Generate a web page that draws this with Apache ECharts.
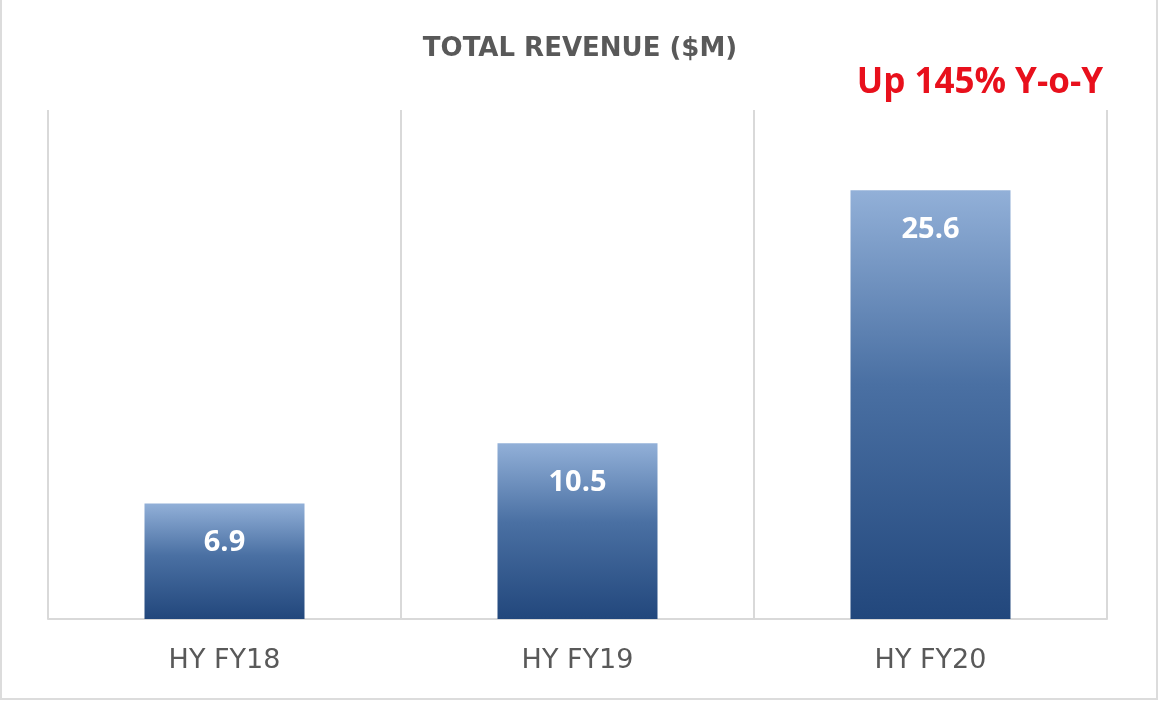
<!DOCTYPE html>
<html>
<head>
<meta charset="utf-8">
<script src="https://cdn.jsdelivr.net/npm/echarts@6/dist/echarts.min.js"></script>
<style>
  html, body { margin: 0; padding: 0; background: #ffffff; }
  #frame { position: absolute; left: 0; top: -4px; width: 1154px; height: 700px;
           border: 2px solid #dcdcdc; background: #fff; }
  #chart { position: absolute; left: 0; top: 0; width: 1160px; height: 704px; }
</style>
</head>
<body>
<div id="frame"></div>
<div id="chart"></div>
<script>
const categories = ['HY FY18', 'HY FY19', 'HY FY20'];
const revenue = [6.9, 10.5, 25.6];
const chartTitle = 'TOTAL REVENUE ($M)';
const annotation = 'Up 145% Y-o-Y';

const chart = echarts.init(document.getElementById('chart'), null, { renderer: 'canvas' });
chart.setOption({
  backgroundColor: 'transparent',
  animation: false,
  title: [
    {
      text: chartTitle,
      left: 'center',
      top: 31,
      textStyle: { fontFamily: 'DejaVu Sans', fontWeight: 'bold', fontSize: 26, color: '#595959' }
    },
    {
      text: annotation,
      right: 52,
      top: 61,
      textStyle: { fontFamily: 'Open Sans', fontWeight: 'bold', fontSize: 35, color: '#e8101c' }
    }
  ],
  grid: { left: 48, right: 53, top: 110, bottom: 85, containLabel: false },
  xAxis: {
    type: 'category',
    data: categories,
    boundaryGap: true,
    axisLine: { show: true, lineStyle: { color: '#d9d9d9', width: 2 } },
    axisTick: { show: false },
    splitLine: { show: true, lineStyle: { color: '#d9d9d9', width: 2 } },
    axisLabel: { margin: 28, fontFamily: 'DejaVu Sans', fontSize: 27, color: '#595959' }
  },
  yAxis: {
    type: 'value',
    min: 0,
    max: 30.4,
    show: false,
    splitLine: { show: false }
  },
  series: [{
    type: 'bar',
    data: revenue,
    barWidth: 160,
    itemStyle: {
      color: new echarts.graphic.LinearGradient(0, 0, 0, 1, [
        { offset: 0, color: '#92b0d8' },
        { offset: 0.45, color: '#4a70a3' },
        { offset: 1, color: '#22477c' }
      ])
    },
    label: {
      show: true,
      position: 'insideTop',
      distance: 25,
      fontFamily: 'Open Sans',
      fontWeight: 'bold',
      fontSize: 29,
      color: '#ffffff'
    }
  }]
});
</script>
</body>
</html>
